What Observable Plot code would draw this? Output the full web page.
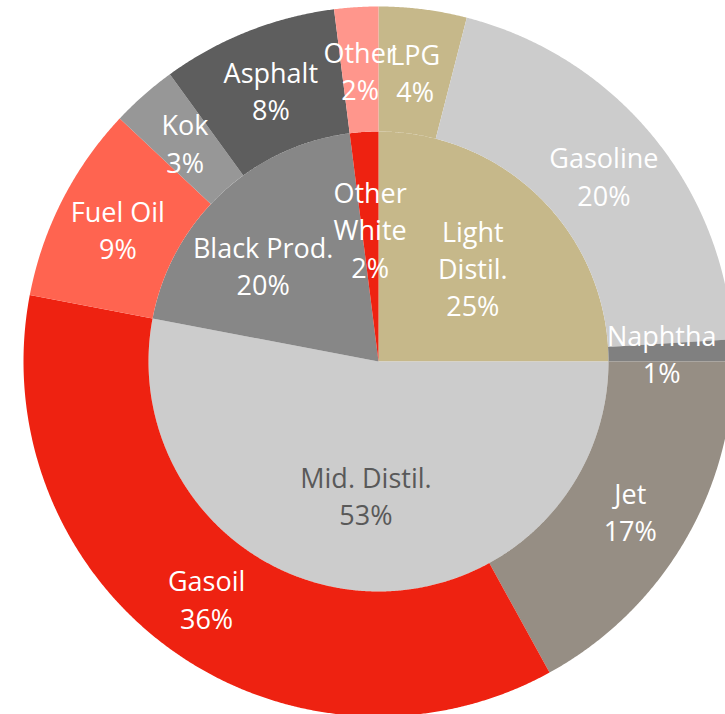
<!DOCTYPE html>
<html>
<head>
<meta charset="utf-8">
<script src="https://cdn.jsdelivr.net/npm/d3@7"></script>
<script src="https://cdn.jsdelivr.net/npm/@observablehq/plot@0.6"></script>
<style>
  html, body { margin: 0; padding: 0; background: #ffffff; overflow: hidden; }
</style>
</head>
<body>
<div id="chart"></div>
<script>
// ---- Data ----
const innerCategories = ["Light Distil.", "Mid. Distil.", "Black Prod.", "Other White"];
const innerLabels = ["Light\nDistil.", "Mid. Distil.", "Black Prod.", "Other\nWhite"];
const innerValues = [25, 53, 20, 2];

const outerCategories = ["LPG", "Gasoline", "Naphtha", "Jet", "Gasoil", "Fuel Oil", "Kok", "Asphalt", "Other"];
const outerValues = [4, 20, 1, 17, 36, 9, 3, 8, 2];

// ---- Styles ----
const innerColors = ["#C6B88A", "#CCCCCC", "#878787", "#EE2211"];
const innerTextColors = ["#FFFFFF", "#595959", "#FFFFFF", "#FFFFFF"];
const outerColors = ["#C6B88A", "#CCCCCC", "#808080", "#968E84", "#EE2211", "#FF6450", "#979797", "#5E5E5E", "#FF968C"];

const W = 725, H = 714;
const CX = 378, CY = 361, RPX = 355;      // layout
const R_INNER = 230 / 355, R_OUTER = 1;   // radii in data units
const LABEL_IN = 0.58 * R_INNER;
const LABEL_OUT = (R_INNER + R_OUTER) / 2;
const FONT_SIZE = 27, LINE_HEIGHT = 1.38;
const FONT_FAMILY = "'Open Sans', sans-serif";
const EDGE_PAD = 9 / RPX;

function makeSlices(cats, vals, colors, ring) {
  const total = d3.sum(vals);
  let acc = 0;
  return cats.map((c, i) => {
    const a0 = acc / total * 2 * Math.PI;
    acc += vals[i];
    const a1 = acc / total * 2 * Math.PI;
    return {ring, name: c, value: vals[i], pct: Math.round(vals[i] / total * 100), a0, a1, color: colors[i], i};
  });
}

const innerSlices = makeSlices(innerCategories, innerValues, innerColors, "inner");
const outerSlices = makeSlices(outerCategories, outerValues, outerColors, "outer");

function polygon(s, r0, r1) {
  const pts = [];
  const step = Math.PI / 720;
  const n = Math.max(2, Math.ceil((s.a1 - s.a0) / step));
  const key = s.ring + ":" + s.name;
  for (let k = 0; k <= n; k++) {
    const a = s.a0 + (s.a1 - s.a0) * k / n;
    pts.push({key, color: s.color, x: r1 * Math.sin(a), y: r1 * Math.cos(a)});
  }
  if (r0 === 0) {
    pts.push({key, color: s.color, x: 0, y: 0});
  } else {
    for (let k = n; k >= 0; k--) {
      const a = s.a0 + (s.a1 - s.a0) * k / n;
      pts.push({key, color: s.color, x: r0 * Math.sin(a), y: r0 * Math.cos(a)});
    }
  }
  pts.push({...pts[0]});
  return pts;
}

const shapePoints = [
  ...innerSlices.flatMap(s => polygon(s, 0, R_INNER)),
  ...outerSlices.flatMap(s => polygon(s, R_INNER, R_OUTER))
];

// text measuring for label layout (in data units)
const ctx = document.createElement("canvas").getContext("2d");
ctx.font = `${FONT_SIZE}px ${FONT_FAMILY}`;
function box(l) {
  const lines = l.text.split("\n");
  const w = d3.max(lines, t => ctx.measureText(t).width) / RPX;
  const h = lines.length * FONT_SIZE * LINE_HEIGHT / RPX;
  return {x0: l.x - w / 2, x1: l.x + w / 2, y0: l.y - h / 2, y1: l.y + h / 2};
}

const innerLabelData = innerSlices.map((s, i) => {
  const a = (s.a0 + s.a1) / 2;
  return {x: LABEL_IN * Math.sin(a), y: LABEL_IN * Math.cos(a), text: innerLabels[i] + "\n" + s.pct + "%", fill: innerTextColors[i], value: s.value};
});
// push larger-slice labels horizontally away from overlapping smaller-slice labels
for (let i = 0; i < innerLabelData.length; i++) {
  for (let j = 0; j < innerLabelData.length; j++) {
    if (i === j) continue;
    const A = innerLabelData[i], B = innerLabelData[j];
    if (A.value <= B.value) continue;
    const a = box(A), b = box(B);
    const ox = Math.min(a.x1, b.x1) - Math.max(a.x0, b.x0);
    const oy = Math.min(a.y1, b.y1) - Math.max(a.y0, b.y0);
    if (ox > 0 && oy > 0) A.x += (A.x < B.x ? -1 : 1) * ox;
  }
}

const outerLabelData = outerSlices.map(s => {
  const a = (s.a0 + s.a1) / 2;
  return {x: LABEL_OUT * Math.sin(a), y: LABEL_OUT * Math.cos(a), text: s.name + "\n" + s.pct + "%", fill: "#FFFFFF"};
});
// keep labels inside the visible drawing area
const xMax = (W - CX) / RPX - EDGE_PAD;
for (const l of outerLabelData) {
  const b = box(l);
  if (b.x1 > xMax) l.x -= b.x1 - xMax;
}

const labels = [...innerLabelData, ...outerLabelData];

const chart = Plot.plot({
  width: W,
  height: H,
  margin: 0,
  style: {background: "#ffffff", fontFamily: FONT_FAMILY},
  x: {domain: [-CX / RPX, (W - CX) / RPX], axis: null},
  y: {domain: [-(H - CY) / RPX, CY / RPX], axis: null},
  color: {type: "identity"},
  marks: [
    Plot.line(shapePoints, {x: "x", y: "y", z: "key", fill: "color", stroke: "none", curve: "linear", clip: true}),
    Plot.text(labels, {x: "x", y: "y", text: "text", fill: "fill", fontSize: FONT_SIZE, lineHeight: LINE_HEIGHT, fontFamily: FONT_FAMILY, textAnchor: "middle"})
  ]
});
document.getElementById("chart").appendChild(chart);
</script>
</body>
</html>
